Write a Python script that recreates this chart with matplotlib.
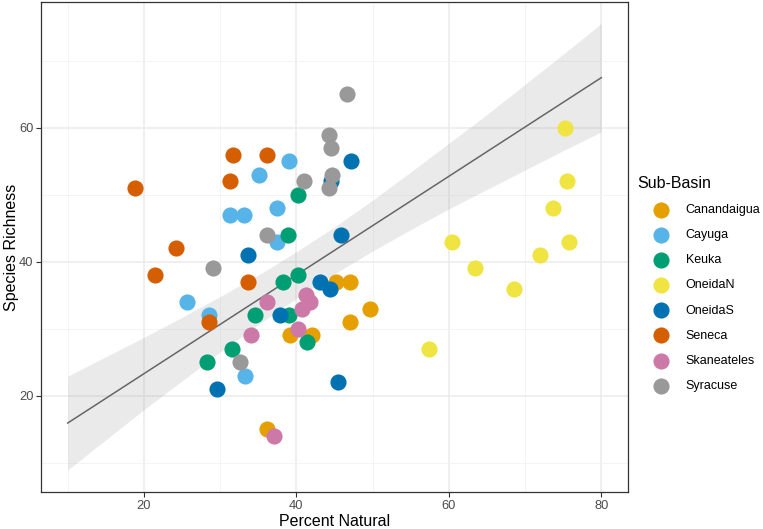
import numpy as np
import matplotlib
matplotlib.use("Agg")
import matplotlib.pyplot as plt

plt.rcParams['font.family'] = ['Liberation Sans', 'DejaVu Sans']

# --------------- data --------------- #
basins = ["Canandaigua", "Cayuga", "Keuka", "OneidaN", "OneidaS",
          "Seneca", "Skaneateles", "Syracuse"]
colors = ["#E69F00", "#56B4E9", "#009E73", "#F0E442", "#0072B2",
          "#D55E00", "#CC79A7", "#999999"]

canandaigua_x = [45.2, 47.0, 49.6, 47.0, 39.2, 42.0, 36.1]
canandaigua_y = [37, 37, 33, 31, 29, 29, 15]
cayuga_x = [39.0, 35.1, 31.3, 33.1, 37.5, 37.5, 25.7, 28.5, 33.2]
cayuga_y = [55, 53, 47, 47, 48, 43, 34, 32, 23]
keuka_x = [40.2, 38.9, 38.3, 40.2, 34.6, 39.0, 41.4, 31.6, 28.3]
keuka_y = [50, 44, 37, 38, 32, 32, 28, 27, 25]
oneidan_x = [75.3, 75.5, 73.6, 60.4, 75.8, 72.0, 63.4, 68.5, 57.4]
oneidan_y = [60, 52, 48, 43, 43, 41, 39, 36, 27]
oneidas_x = [47.2, 44.5, 45.9, 33.7, 43.1, 44.4, 37.8, 29.6, 45.5]
oneidas_y = [55, 52, 44, 41, 37, 36, 32, 21, 22]
seneca_x = [31.7, 36.2, 31.3, 18.8, 24.2, 21.5, 33.6, 28.5]
seneca_y = [56, 56, 52, 51, 42, 38, 37, 31]
skaneateles_x = [36.2, 41.2, 41.8, 40.8, 40.2, 34.1, 37.1]
skaneateles_y = [34, 35, 34, 33, 30, 29, 14]
syracuse_x = [46.7, 44.3, 44.6, 44.7, 41.0, 44.3, 36.2, 29.1, 32.6]
syracuse_y = [65, 59, 57, 53, 52, 51, 44, 39, 25]

xs = [canandaigua_x, cayuga_x, keuka_x, oneidan_x, oneidas_x,
      seneca_x, skaneateles_x, syracuse_x]
ys = [canandaigua_y, cayuga_y, keuka_y, oneidan_y, oneidas_y,
      seneca_y, skaneateles_y, syracuse_y]

# trend line and its confidence band, as drawn in the reference
trend_x = [10, 80]
trend_y = [15.9, 67.5]
band_x = [10, 15, 20, 25, 30, 35, 40, 45, 50, 55, 60, 65, 70, 75, 80]
band_lo = [8.9, 13.4, 17.9, 22.2, 26.5, 30.6, 34.5, 38.2, 41.6, 44.8,
           47.9, 50.8, 53.7, 56.6, 59.4]
band_hi = [22.9, 25.8, 28.7, 31.7, 34.8, 38.0, 41.5, 45.2, 49.2, 53.4,
           57.7, 62.0, 66.5, 71.0, 75.6]

# --------------- plot --------------- #
fig = plt.figure(figsize=(7.63, 5.29), dpi=100)
ax = fig.add_axes([41 / 763, 37 / 529, 587 / 763, 490 / 529])

ax.fill_between(band_x, band_lo, band_hi, color="#999999", alpha=0.2,
                linewidth=0, zorder=2)
ax.plot(trend_x, trend_y, color="#666666", linewidth=1.1, zorder=3)

for name, col, x, y in zip(basins, colors, xs, ys):
    ax.scatter(x, y, s=135, color=col, linewidths=0, label=name, zorder=4)

ax.set_xlim(6.5, 83.5)
ax.set_ylim(5.6, 78.8)
ax.set_xticks([20, 40, 60, 80])
ax.set_yticks([20, 40, 60])
ax.set_xticks([10, 30, 50, 70], minor=True)
ax.set_yticks([10, 30, 50, 70], minor=True)
ax.grid(True, which="major", color="#EBEBEB", linewidth=1.1, zorder=0)
ax.grid(True, which="minor", color="#F2F2F2", linewidth=0.6, zorder=0)
ax.set_axisbelow(True)
ax.tick_params(which="major", length=3.5, width=0.8, color="#333333",
               labelsize=9.3, labelcolor="#4D4D4D", pad=2)
ax.tick_params(which="minor", length=0)
for sp in ax.spines.values():
    sp.set_color("#333333")
    sp.set_linewidth(0.9)

ax.set_xlabel("Percent Natural", fontsize=11.5, labelpad=2)
ax.set_ylabel("Species Richness", fontsize=11.5)
ax.yaxis.set_label_coords(-22 / 587, 0.5)

leg = fig.legend(loc="upper left", bbox_to_anchor=(632 / 763, 1 - 171 / 529),
                 frameon=False, title="Sub-Basin", fontsize=9.0,
                 title_fontsize=11.5, alignment="left",
                 handlelength=3.9, handletextpad=0.0,
                 labelspacing=1.05, borderaxespad=0)

fig.savefig("out.png", dpi=100)
